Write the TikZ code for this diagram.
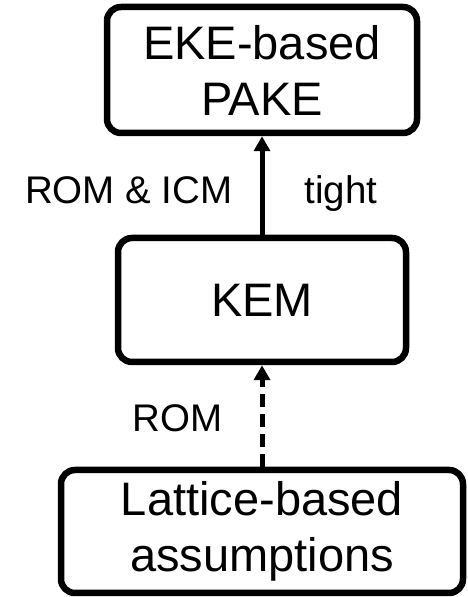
\documentclass[tikz,border=0pt]{standalone}
\usepackage{fontspec}
\setmainfont{Liberation Sans}
\usetikzlibrary{arrows.meta}

\begin{document}
\begin{tikzpicture}[x=1pt, y=1pt,
		box/.style={draw, line width=6.5pt, rounded corners=14pt, align=center, inner sep=0pt, font=\fontsize{47}{56}\selectfont},
		lbl/.style={inner sep=0pt, font=\fontsize{38.5}{46}\selectfont},
		link/.style={line width=5pt, -{Triangle[length=15pt, width=16pt]}}]
		\useasboundingbox (0,0) rectangle (468,597);

		% Boxes
		\node[box, minimum width=310pt, minimum height=126pt] (pake) at (262, 527) {EKE-based\\PAKE};
		\node[box, minimum width=288pt, minimum height=124pt] (kem) at (262, 297) {KEM};
		\node[box, minimum width=402pt, minimum height=123pt] (lattice) at (262, 65.5) {Lattice-based\\assumptions};

		% Edges
		\draw[link] (kem) -- node[lbl, pos=.32, anchor=base east, xshift=-27pt] {ROM \& ICM}
			node[lbl, pos=.32, anchor=base west, xshift=40pt] {tight} (pake);
		\draw[link, dash pattern=on 13pt off 7pt] (lattice) -- node[lbl, pos=.35, anchor=base east, xshift=-37pt] {ROM} (kem);
	\end{tikzpicture}
\end{document}
